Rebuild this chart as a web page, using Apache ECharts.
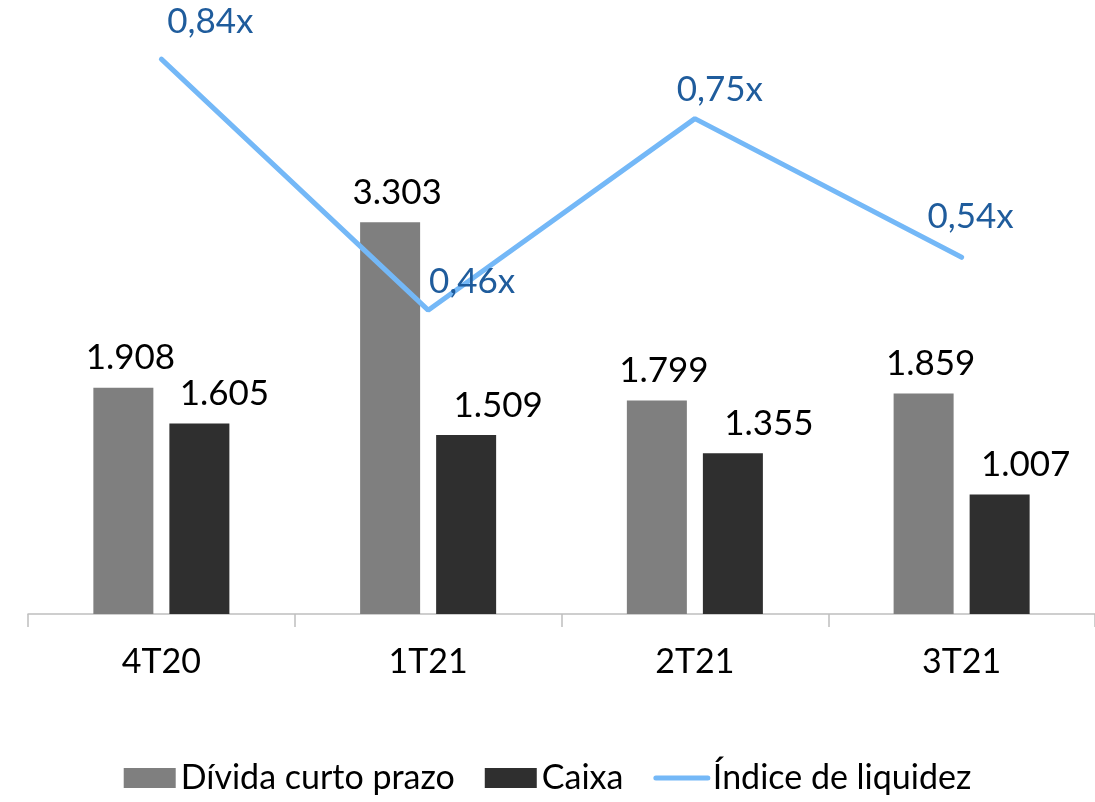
<!DOCTYPE html>
<html>
<head>
<meta charset="utf-8">
<script src="https://cdn.jsdelivr.net/npm/echarts@6/dist/echarts.min.js"></script>
<style>
  html, body { margin: 0; padding: 0; background: #fff; }
  #chart { width: 1095px; height: 802px; }
</style>
</head>
<body>
<div id="chart"></div>
<script>
// dados do gráfico
const quarters = ['4T20', '1T21', '2T21', '3T21']
const dividaCurto = [1908, 3303, 1799, 1859]
const caixa = [1605, 1509, 1355, 1007]
const indiceLiquidez = [0.84, 0.46, 0.75, 0.54]

// deslocamento dos rótulos
const lineLabelOffsets = [[49, -14], [44, -5], [25, -6], [9, -18]]
const caixaLabelOffsets = [[25, 0], [32, 0], [36, 0], [26, 0]]

const fmtMil = (v) => (v / 1000).toFixed(3)
const fmtX = (v) => v.toFixed(2).replace('.', ',') + 'x'

const FONT = 'Lato, "DejaVu Sans", sans-serif'

const chart = echarts.init(document.getElementById('chart'))

chart.setOption({
  backgroundColor: '#fff',
  animation: false,
  textStyle: { fontFamily: FONT },
  grid: { left: 28, right: 0, top: 0, bottom: 188 },
  legend: {
    bottom: 2,
    left: 'center',
    itemWidth: 52,
    itemHeight: 20,
    itemGap: 30,
    textStyle: { fontSize: 34, color: '#000', fontFamily: FONT },
    data: [
      { name: 'Dívida curto prazo', icon: 'rect' },
      { name: 'Caixa', icon: 'rect' },
      { name: 'Índice de liquidez', lineStyle: { width: 5 } },
    ],
  },
  xAxis: {
    type: 'category',
    data: quarters,
    axisLine: { lineStyle: { color: '#bfbfbf', width: 1.5 } },
    axisTick: { show: true, length: 13, lineStyle: { color: '#bfbfbf', width: 1.5 } },
    axisLabel: { color: '#000', fontSize: 34, margin: 31, fontFamily: FONT },
  },
  yAxis: [
    { type: 'value', min: 0, max: 5176, show: false, splitLine: { show: false } },
    { type: 'value', min: 0, max: 0.9296, show: false, splitLine: { show: false } },
  ],
  series: [
    {
      name: 'Dívida curto prazo',
      type: 'bar',
      data: dividaCurto,
      barWidth: 60,
      barGap: '26.7%',
      itemStyle: { color: '#7f7f7f' },
      label: {
        show: true, position: 'top', distance: 12, offset: [7, 0],
        color: '#000', fontSize: 35, fontFamily: FONT,
        formatter: (p) => fmtMil(p.value),
      },
    },
    {
      name: 'Caixa',
      type: 'bar',
      data: caixa.map((v, i) => ({
        value: v,
        label: { offset: caixaLabelOffsets[i] },
      })),
      barWidth: 60,
      itemStyle: { color: '#2f2f2f' },
      label: {
        show: true, position: 'top', distance: 12,
        color: '#000', fontSize: 35, fontFamily: FONT,
        formatter: (p) => fmtMil(p.value),
      },
    },
    {
      name: 'Índice de liquidez',
      type: 'line',
      yAxisIndex: 1,
      data: indiceLiquidez.map((v, i) => ({
        value: v,
        label: { offset: lineLabelOffsets[i] },
      })),
      symbol: 'circle',
      symbolSize: 1,
      lineStyle: { color: '#74b8f7', width: 5, cap: 'round' },
      itemStyle: { color: 'rgba(0,0,0,0)' },
      label: {
        show: true, position: 'top', distance: 5,
        color: '#1f5c9c', fontSize: 35, fontFamily: FONT,
        formatter: (p) => fmtX(p.value),
      },
    },
  ],
})
</script>
</body>
</html>
